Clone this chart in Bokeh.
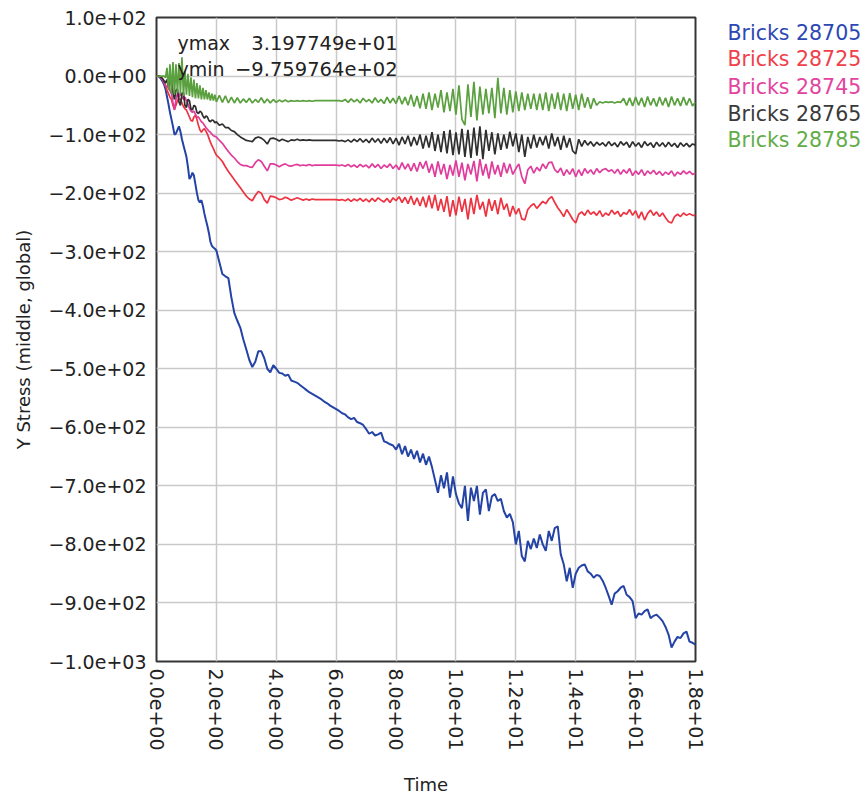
from bokeh.plotting import figure
from bokeh.layouts import row
from bokeh.models import FixedTicker, Label, Range1d
from bokeh.core.properties import value
from bokeh.embed import file_html
from bokeh.resources import INLINE

# Sample times: finer steps during the initial transient, then 0.1 s steps
t_start = [round(0.05 * i, 2) for i in range(40)]
t_rest = [round(2.0 + 0.1 * i, 1) for i in range(161)]
time = t_start + t_rest

# Y stress (middle, global) per brick
bricks_28705 = [
    0, 0, -2, -5, -9, -14, -22, -35, -48, -62,
    -74, -86, -100, -98, -92, -86, -95, -108, -118, -128,
    -138, -155, -176, -172, -165, -170, -185, -200, -212, -216,
    -212, -222, -235, -246, -256, -268, -283, -290, -293, -295,
    -298, -318, -338, -342, -345, -378, -405, -418, -430, -450,
    -467, -485, -497, -488, -470, -470, -482, -500, -506, -494,
    -500, -507, -508, -512, -510, -520, -522, -524, -528, -532,
    -536, -540, -543, -546, -549, -552, -556, -559, -563, -566,
    -569, -572, -576, -578, -583, -586, -584, -591, -593, -596,
    -603, -611, -608, -614, -612, -609, -624, -626, -629, -631,
    -638, -628, -646, -632, -650, -638, -654, -640, -660, -645,
    -664, -650, -668, -690, -712, -682, -704, -677, -720, -684,
    -714, -730, -738, -700, -760, -703, -726, -700, -749, -712,
    -706, -743, -718, -714, -726, -722, -743, -754, -748, -762,
    -800, -777, -820, -829, -794, -808, -790, -806, -783, -800,
    -811, -777, -794, -772, -769, -817, -834, -863, -840, -874,
    -850, -840, -836, -834, -846, -850, -857, -852, -854, -862,
    -874, -888, -903, -884, -880, -874, -871, -886, -890, -897,
    -926, -918, -920, -914, -911, -926, -922, -920, -925, -931,
    -941, -954, -975.9764, -966, -958, -960, -952, -949, -966, -968,
    -971,
]

bricks_28725 = [
    0, 0, -1, -3, -6, -11, -17, -24, -30, -36,
    -40, -50, -57, -50, -42, -38, -40, -46, -52, -56,
    -58, -64, -70, -76, -77, -70, -67, -74, -84, -92,
    -96, -92, -90, -94, -99, -106, -113, -119, -124, -130,
    -135, -140, -146, -155, -163, -170, -177, -184, -191, -198,
    -205, -210, -213, -204, -197, -200, -211, -217, -205, -206,
    -208, -211, -210, -207, -209, -212, -210, -208, -210, -212,
    -210, -212, -210, -211, -211, -211, -211, -211, -211, -211,
    -211, -212, -211, -213, -210, -214, -210, -213, -209, -214,
    -210, -215, -209, -214, -208, -212, -215, -209, -216, -208,
    -213, -206, -216, -207, -218, -205, -220, -208, -222, -206,
    -224, -204, -226, -203, -230, -210, -232, -205, -240, -212,
    -238, -206, -232, -210, -245, -208, -236, -203, -228, -215,
    -240, -210, -230, -212, -236, -208, -228, -218, -240, -222,
    -236, -226, -244, -246, -228, -222, -218, -226, -220, -214,
    -218, -210, -206, -216, -225, -232, -240, -228, -236, -245,
    -251, -236, -232, -238, -229, -236, -232, -238, -230, -240,
    -234, -238, -229, -236, -231, -240, -233, -236, -228, -238,
    -230, -243, -232, -246, -235, -229, -238, -232, -240, -234,
    -242, -249, -251, -240, -236, -240, -234, -238, -235, -238,
    -238,
]

bricks_28745 = [
    0, 0, -1, -3, -6, -10, -15, -20, -14, -25,
    -30, -45, -58, -40, -30, -36, -28, -35, -40, -36,
    -42, -48, -55, -60, -62, -60, -65, -70, -70, -74,
    -78, -80, -84, -88, -91, -94, -96, -99, -102, -103,
    -104, -110, -115, -122, -129, -135, -140, -146, -151, -153,
    -153, -155, -156, -148, -143, -146, -154, -162, -150, -150,
    -152, -155, -152, -150, -153, -154, -152, -151, -153, -152,
    -153, -151, -153, -152, -152, -152, -152, -152, -152, -152,
    -152, -153, -152, -154, -151, -155, -152, -156, -151, -155,
    -152, -157, -150, -156, -151, -158, -152, -156, -150, -158,
    -152, -160, -148, -159, -150, -162, -149, -163, -147, -158,
    -145, -165, -150, -172, -146, -168, -150, -176, -152, -170,
    -144, -172, -148, -178, -150, -168, -145, -180, -142, -170,
    -150, -175, -146, -168, -152, -172, -148, -166, -150, -168,
    -158, -150, -172, -184, -160, -154, -166, -156, -162, -150,
    -158, -148, -147, -160, -165, -157, -170, -160, -168, -158,
    -172, -160, -170, -158, -166, -160, -168, -158, -165, -160,
    -158, -163, -160, -166, -159, -168, -160, -166, -158, -170,
    -162, -168, -160, -170, -162, -167, -161, -168, -163, -170,
    -164, -168, -162, -171, -164, -168, -162, -167, -163, -168,
    -166,
]

bricks_28765 = [
    0, 0, 0, -2, -4, -8, -12, -6, -18, -10,
    -8, -28, -40, -24, -22, -44, -50, -30, -28, -50,
    -54, -40, -42, -56, -58, -50, -52, -62, -64, -60,
    -62, -68, -72, -68, -70, -76, -78, -75, -76, -80,
    -78, -84, -82, -88, -88, -93, -95, -100, -104, -107,
    -110, -111, -112, -106, -104, -106, -110, -116, -107, -106,
    -108, -111, -108, -110, -112, -109, -110, -108, -110, -109,
    -110, -109, -110, -110, -110, -110, -110, -110, -110, -110,
    -110, -111, -110, -112, -109, -113, -108, -112, -107, -113,
    -108, -114, -106, -113, -107, -115, -106, -114, -105, -116,
    -106, -118, -104, -116, -102, -120, -104, -118, -100, -124,
    -102, -122, -96, -128, -100, -130, -94, -132, -92, -135,
    -96, -134, -90, -138, -92, -140, -88, -136, -86, -142,
    -92, -128, -96, -134, -98, -126, -100, -124, -95, -120,
    -98, -130, -100, -138, -104, -124, -100, -122, -104, -118,
    -102, -124, -98, -120, -104, -126, -102, -122, -106, -128,
    -133, -108, -120, -110, -118, -112, -120, -113, -118, -114,
    -120, -112, -119, -114, -121, -112, -118, -113, -122, -112,
    -120, -114, -122, -112, -119, -114, -122, -113, -120, -114,
    -121, -113, -120, -115, -122, -114, -120, -115, -121, -116,
    -118,
]

bricks_28785 = [
    0, 0, 0, 0, 0, 0, -3, 14, -24, 20,
    -30, 24, -32, 20, -28, 22, -30, 31.97749, -34, 8,
    -32, 4, -34, -2, -36, -6, -38, -12, -38, -16,
    -40, -20, -40, -24, -40, -28, -42, -30, -42, -32,
    -44, -33, -45, -34, -46, -36, -46, -37, -46, -39,
    -45, -38, -46, -40, -45, -37, -46, -39, -46, -40,
    -45, -41, -44, -41, -44, -42, -43, -42, -43, -42,
    -43, -42, -43, -42, -42, -42, -42, -42, -42, -42,
    -42, -42, -43, -40, -45, -39, -44, -40, -46, -38,
    -44, -40, -46, -37, -45, -40, -47, -36, -46, -38,
    -47, -34, -48, -36, -50, -32, -52, -34, -55, -30,
    -56, -28, -58, -30, -54, -24, -62, -28, -60, -22,
    -66, -16, -74, -84, -14, -70, -10, -76, -18, -66,
    -22, -64, -20, -72, -3, -64, -20, -66, -24, -62,
    -26, -60, -28, -58, -30, -56, -30, -58, -30, -58,
    -28, -60, -30, -56, -28, -58, -30, -60, -29, -56,
    -32, -58, -30, -54, -36, -56, -38, -50, -44, -46,
    -44, -45, -44, -46, -44, -45, -38, -50, -37, -51,
    -36, -50, -37, -53, -35, -50, -38, -52, -36, -50,
    -37, -53, -35, -50, -38, -51, -36, -50, -38, -51,
    -45,
]

series_names = ["Bricks 28705", "Bricks 28725", "Bricks 28745", "Bricks 28765", "Bricks 28785"]
series_values = [bricks_28705, bricks_28725, bricks_28745, bricks_28765, bricks_28785]
line_colors = ["#2443a6", "#ee3340", "#e03c9c", "#2e2e2e", "#5aa03e"]
line_widths = [2.0, 1.7, 1.7, 1.7, 1.7]
legend_colors = ["#2d48b4", "#f0404a", "#e2449f", "#3a3a3a", "#62ad48"]

x_ticks = [0, 2, 4, 6, 8, 10, 12, 14, 16, 18]
x_tick_labels = ["0.0e+00", "2.0e+00", "4.0e+00", "6.0e+00", "8.0e+00",
                 "1.0e+01", "1.2e+01", "1.4e+01", "1.6e+01", "1.8e+01"]
y_ticks = [100, 0, -100, -200, -300, -400, -500, -600, -700, -800, -900, -1000]
y_tick_labels = ["1.0e+02", "0.0e+00", "\u22121.0e+02", "\u22122.0e+02", "\u22123.0e+02",
                 "\u22124.0e+02", "\u22125.0e+02", "\u22126.0e+02", "\u22127.0e+02",
                 "\u22128.0e+02", "\u22129.0e+02", "\u22121.0e+03"]

FONT = "DejaVu Sans"
TEXT = "#222222"

p = figure(width=711, height=798, x_range=(0, 18), y_range=(-1000, 100),
           output_backend="svg", toolbar_location=None,
           min_border_left=156, min_border_right=16,
           min_border_top=17, min_border_bottom=137)
p.background_fill_color = "white"
p.border_fill_color = "white"
p.outline_line_color = "#353535"
p.outline_line_width = 2

for g in (p.xgrid, p.ygrid):
    g.grid_line_color = "#c9c9c9"
    g.grid_line_width = 1.5

p.xaxis.ticker = FixedTicker(ticks=x_ticks)
p.xaxis.major_label_overrides = dict(zip(x_ticks, x_tick_labels))
p.yaxis.ticker = FixedTicker(ticks=y_ticks)
p.yaxis.major_label_overrides = dict(zip(y_ticks, y_tick_labels))
p.xaxis.major_label_orientation = "vertical"

for ax in (p.xaxis, p.yaxis):
    ax.axis_line_color = None
    ax.major_tick_line_color = None
    ax.minor_tick_line_color = None
    ax.major_tick_out = 0
    ax.major_tick_in = 0
    ax.major_label_text_font = FONT
    ax.major_label_text_font_size = "19px"
    ax.major_label_text_color = TEXT
    ax.axis_label_text_font = FONT
    ax.axis_label_text_font_size = "18px"
    ax.axis_label_text_font_style = "normal"
    ax.axis_label_text_color = TEXT

p.xaxis.axis_label = "Time"
p.yaxis.axis_label = "Y Stress (middle, global)"
p.xaxis.major_label_standoff = 7
p.yaxis.major_label_standoff = 10
p.xaxis.axis_label_standoff = 20
p.yaxis.axis_label_standoff = 12

for vals, col, lw in zip(series_values, line_colors, line_widths):
    p.line(time, vals, line_color=col, line_width=lw)

# extreme values over all curves
all_vals = [v for s in series_values for v in s]
ymax = max(all_vals)
ymin = min(all_vals)


def sci(v):
    s = "%.6e" % v
    return s.replace("-", "\u2212", 1) if v < 0 else s


for name_txt, val, yy in (("ymax", ymax, 57), ("ymin", ymin, 12)):
    p.add_layout(Label(x=0.7, y=yy, text=name_txt, text_font=FONT, text_font_size="19px",
                       text_color=TEXT, text_baseline="middle", text_align="left"))
    p.add_layout(Label(x=8.05, y=yy, text=sci(val), text_font=FONT, text_font_size="19.5px",
                       text_color=TEXT, text_baseline="middle", text_align="right"))

# coloured series names beside the chart (pixel space, y growing downward)
leg = figure(width=154, height=798, x_range=Range1d(0, 154), y_range=Range1d(798, 0),
             output_backend="svg", toolbar_location=None,
             x_axis_type=None, y_axis_type=None,
             min_border_left=0, min_border_right=0, min_border_top=0, min_border_bottom=0)
leg.outline_line_color = None
leg.xgrid.visible = False
leg.ygrid.visible = False
leg.background_fill_color = "white"
leg.border_fill_color = "white"

legend_x = [16, 16, 16, 16, 16]
legend_y = [19, 52, 86, 119, 152]
leg.text(x=legend_x, y=legend_y, text=series_names, text_color=legend_colors,
         text_font=value(FONT), text_font_size="20.5px", text_baseline="middle",
         text_align="left")

layout = row(p, leg, spacing=0)
open("out.html", "w").write(file_html(layout, INLINE))
